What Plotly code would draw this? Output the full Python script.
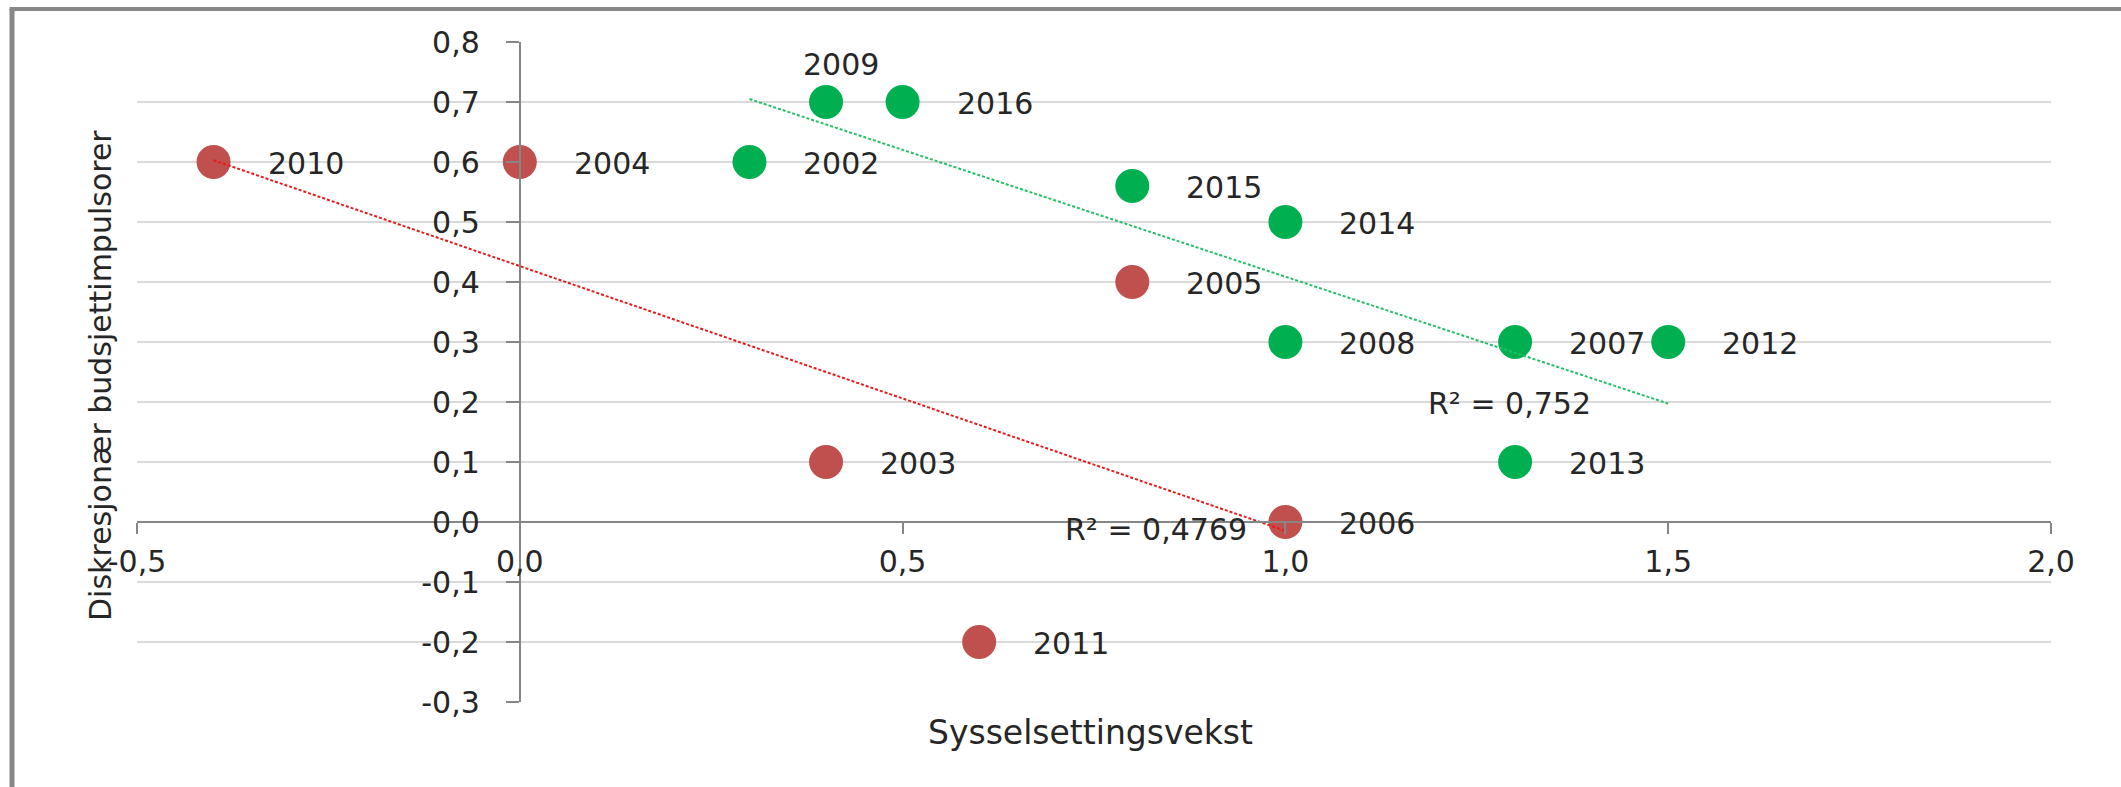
import numpy as np
import plotly.graph_objects as go

# ---- data ----
red_years = ["2010", "2004", "2005", "2003", "2006", "2011"]
red_x = [-0.4, 0.0, 0.8, 0.4, 1.0, 0.6]
red_y = [0.6, 0.6, 0.4, 0.1, 0.0, -0.2]

green_years = ["2009", "2016", "2002", "2015", "2014", "2008", "2007", "2012", "2013"]
green_x = [0.4, 0.5, 0.3, 0.8, 1.0, 1.0, 1.3, 1.5, 1.3]
green_y = [0.7, 0.7, 0.6, 0.56, 0.5, 0.3, 0.3, 0.3, 0.1]

x_tick_vals = [-0.5, 0.0, 0.5, 1.0, 1.5, 2.0]
x_tick_text = ["-0,5", "0,0", "0,5", "1,0", "1,5", "2,0"]
y_tick_vals = [-0.3, -0.2, -0.1, 0.0, 0.1, 0.2, 0.3, 0.4, 0.5, 0.6, 0.7, 0.8]
y_tick_text = ["-0,3", "-0,2", "-0,1", "0,0", "0,1", "0,2", "0,3", "0,4", "0,5", "0,6", "0,7", "0,8"]

r2_red_label = "R² = 0,4769"
r2_green_label = "R² = 0,752"

x_title = "Sysselsettingsvekst"
y_title = "Diskresjonær budsjettimpulsorer"

RED = "#C0504D"
GREEN = "#00B050"
FONT = "DejaVu Sans"
TXT = "#262626"
FS = 30


def trend(xs, ys):
    xs = np.array(xs)
    ys = np.array(ys)
    k, m = np.polyfit(xs, ys, 1)
    xe = np.array([xs.min(), xs.max()])
    return xe, k * xe + m


fig = go.Figure()
fig.add_trace(go.Scatter(x=red_x, y=red_y, mode="markers",
                         marker=dict(color=RED, size=34), showlegend=False, hoverinfo="skip"))
fig.add_trace(go.Scatter(x=green_x, y=green_y, mode="markers",
                         marker=dict(color=GREEN, size=34), showlegend=False, hoverinfo="skip"))

rx, ry = trend(red_x, red_y)
gx, gy = trend(green_x, green_y)
fig.add_trace(go.Scatter(x=rx, y=ry, mode="lines",
                         line=dict(color="#E8191B", width=2, dash="3px,2px"),
                         showlegend=False, hoverinfo="skip"))
fig.add_trace(go.Scatter(x=gx, y=gy, mode="lines",
                         line=dict(color="#22C065", width=2, dash="3px,2px"),
                         showlegend=False, hoverinfo="skip"))

annotations = []
for yr, x, y in list(zip(red_years, red_x, red_y)) + list(zip(green_years, green_x, green_y)):
    if yr == "2009":
        annotations.append(dict(x=x, y=y, text=yr, showarrow=False, xanchor="center",
                                yanchor="middle", xshift=15, yshift=38,
                                font=dict(family=FONT, size=FS, color=TXT)))
    else:
        annotations.append(dict(x=x, y=y, text=yr, showarrow=False, xanchor="left",
                                yanchor="middle", xshift=52, yshift=-1,
                                font=dict(family=FONT, size=FS, color=TXT)))

annotations.append(dict(x=rx[1], y=ry[1], text=r2_red_label, showarrow=False,
                        xanchor="right", yanchor="middle", xshift=-36, yshift=1,
                        font=dict(family=FONT, size=FS, color=TXT)))
annotations.append(dict(x=gx[1], y=gy[1], text=r2_green_label, showarrow=False,
                        xanchor="right", yanchor="middle", xshift=-75, yshift=0,
                        font=dict(family=FONT, size=FS, color=TXT)))

# axis titles
annotations.append(dict(xref="paper", yref="paper", x=0.4984, y=-0.0455, text=x_title,
                        showarrow=False, xanchor="center", yanchor="middle",
                        font=dict(family=FONT, size=33, color=TXT)))
annotations.append(dict(xref="paper", yref="paper", x=-0.0188, y=0.494, text=y_title,
                        showarrow=False, xanchor="center", yanchor="middle", textangle=-90,
                        font=dict(family=FONT, size=30, color=TXT)))

shapes = [
    dict(type="line", xref="paper", yref="paper", x0=-0.0653, x1=-0.0653, y0=-0.2, y1=1.05,
         line=dict(color="#878787", width=5)),
    dict(type="line", xref="paper", yref="paper", x0=-0.0666, x1=1.1, y0=1.05, y1=1.05,
         line=dict(color="#878787", width=4)),
]

fig.update_layout(
    width=2121, height=787,
    margin=dict(l=137, r=70, t=42, b=85),
    paper_bgcolor="white", plot_bgcolor="white",
    font=dict(family=FONT, size=FS, color=TXT),
    annotations=annotations,
    shapes=shapes,
    xaxis=dict(range=[-0.5, 2.0], tickvals=x_tick_vals, ticktext=x_tick_text,
               showgrid=False, zeroline=False, showline=True, linecolor="#868686", linewidth=2,
               ticks="outside", ticklen=11, tickwidth=2, tickcolor="#868686",
               anchor="free", position=0.3 / 1.1, ticklabelstandoff=2,
               tickfont=dict(family=FONT, size=FS, color=TXT)),
    yaxis=dict(range=[-0.3, 0.8], tickvals=y_tick_vals, ticktext=y_tick_text,
               showgrid=True, gridcolor="#D9D9D9", gridwidth=2, zeroline=False,
               showline=True, linecolor="#868686", linewidth=2,
               ticks="outside", ticklen=13, tickwidth=2, tickcolor="#868686",
               anchor="free", position=0.2, ticklabelstandoff=20,
               tickfont=dict(family=FONT, size=FS, color=TXT)),
)

fig.write_html("out.html", config={"displayModeBar": False},
               post_script="document.body.style.margin='0';")
